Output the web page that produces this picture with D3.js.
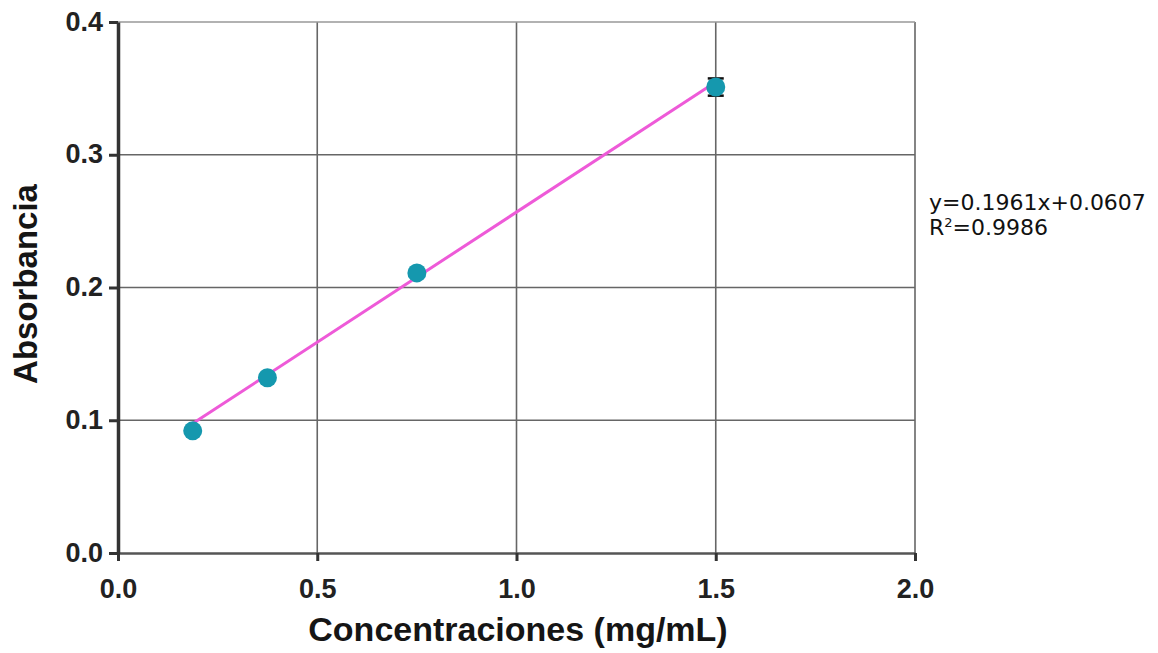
<!DOCTYPE html>
<html>
<head>
<meta charset="utf-8">
<script src="https://cdn.jsdelivr.net/npm/d3@7"></script>
<style>
  body { margin: 0; background: #fff; }
  svg { display: block; }
</style>
</head>
<body>
<svg width="1158" height="653"></svg>
<script>
// data
const concentrations = [0.1875, 0.375, 0.75, 1.5]
const absorbances = [0.092, 0.132, 0.211, 0.351]
const errors = [0, 0, 0, 0.0065]
const slope = 0.1961
const intercept = 0.0607
const xTicks = [0, 0.5, 1.0, 1.5, 2.0]
const yTicks = [0, 0.1, 0.2, 0.3, 0.4]

let svg = d3.select('svg')
let margin = { left: 118, right: 243, top: 22, bottom: 100 }
let width = +svg.attr('width')
let height = +svg.attr('height')

let x = d3.scaleLinear().domain([0, 2]).range([margin.left, width - margin.right])
let y = d3.scaleLinear().domain([0, 0.4]).range([height - margin.bottom, margin.top])

// grid
let grid = svg.append('g').attr('class', 'grid')
grid.selectAll('.gx')
  .data(xTicks.slice(1))
  .enter().append('line')
  .attr('x1', d => x(d)).attr('x2', d => x(d))
  .attr('y1', y(0)).attr('y2', y(0.4))
  .attr('stroke', '#666').attr('stroke-width', 1.6)
grid.selectAll('.gy')
  .data(yTicks.slice(1))
  .enter().append('line')
  .attr('x1', x(0)).attr('x2', x(2))
  .attr('y1', d => y(d)).attr('y2', d => y(d))
  .attr('stroke', d => d === 0.4 ? '#999' : '#666').attr('stroke-width', 1.6)

// axes
let xAxis = svg.append('g')
  .attr('transform', 'translate(0,' + y(0) + ')')
  .call(d3.axisBottom(x).tickValues(xTicks).tickFormat(d3.format('.1f')).tickSize(8).tickSizeOuter(0))
let yAxis = svg.append('g')
  .attr('transform', 'translate(' + x(0) + ',0)')
  .call(d3.axisLeft(y).tickValues(yTicks).tickFormat(d3.format('.1f')).tickSize(9).tickSizeOuter(0))

xAxis.select('.domain').attr('stroke', '#555').attr('stroke-width', 2.5)
yAxis.select('.domain').attr('stroke', '#333').attr('stroke-width', 3.5)
svg.selectAll('.tick line').attr('stroke', '#333').attr('stroke-width', 3)
svg.selectAll('.tick text')
  .style('font-family', 'Liberation Sans, Arial, sans-serif')
  .style('font-size', '27px')
  .style('font-weight', 'bold')
  .attr('fill', '#222')
xAxis.selectAll('.tick text').attr('y', 45).attr('dy', 0)
yAxis.selectAll('.tick text').attr('x', -15).attr('dy', '0.3em')

// axis titles
svg.append('text')
  .attr('x', 518)
  .attr('y', 641)
  .attr('text-anchor', 'middle')
  .style('font-family', 'Liberation Sans, Arial, sans-serif')
  .style('font-size', '34px')
  .style('font-weight', 'bold')
  .attr('fill', '#151515')
  .text('Concentraciones (mg/mL)')
svg.append('text')
  .attr('transform', 'translate(37,' + 284 + ') rotate(-90)')
  .attr('text-anchor', 'middle')
  .style('font-family', 'Liberation Sans, Arial, sans-serif')
  .style('font-size', '33px')
  .style('font-weight', 'bold')
  .attr('fill', '#151515')
  .text('Absorbancia')

// fitted line
let x0 = d3.min(concentrations)
let x1 = d3.max(concentrations)
svg.append('line')
  .attr('x1', x(x0)).attr('y1', y(slope * x0 + intercept))
  .attr('x2', x(x1)).attr('y2', y(slope * x1 + intercept))
  .attr('stroke', '#ee5ad8')
  .attr('stroke-width', 3)

let pts = concentrations.map((c, i) => ({ c: c, a: absorbances[i], e: errors[i] }))

// error bars
let eb = svg.append('g').selectAll('g')
  .data(pts.filter(d => d.e > 0))
  .enter().append('g')
eb.append('line')
  .attr('x1', d => x(d.c)).attr('x2', d => x(d.c))
  .attr('y1', d => y(d.a - d.e)).attr('y2', d => y(d.a + d.e))
  .attr('stroke', '#111').attr('stroke-width', 2)
eb.selectAll('.cap')
  .data(d => [d.a - d.e, d.a + d.e].map(v => ({ c: d.c, v: v })))
  .enter().append('line')
  .attr('x1', d => x(d.c) - 8).attr('x2', d => x(d.c) + 8)
  .attr('y1', d => y(d.v)).attr('y2', d => y(d.v))
  .attr('stroke', '#111').attr('stroke-width', 2.5)

// points
svg.append('g').selectAll('circle')
  .data(pts)
  .enter().append('circle')
  .attr('cx', d => x(d.c))
  .attr('cy', d => y(d.a))
  .attr('r', 9.5)
  .attr('fill', '#1598ae')

// equation
svg.append('text')
  .attr('x', 929)
  .attr('y', 210)
  .style('font-family', 'DejaVu Sans, Verdana, sans-serif')
  .style('font-size', '22px')
  .attr('fill', '#111')
  .text('y=' + slope + 'x+' + intercept)
let r2 = svg.append('text')
  .attr('x', 929)
  .attr('y', 235)
  .style('font-family', 'DejaVu Sans, Verdana, sans-serif')
  .style('font-size', '22px')
  .attr('fill', '#111')
r2.append('tspan').text('R')
r2.append('tspan').attr('dy', -8).style('font-size', '13px').text('2')
r2.append('tspan').attr('dy', 8).text('=0.9986')
</script>
</body>
</html>
